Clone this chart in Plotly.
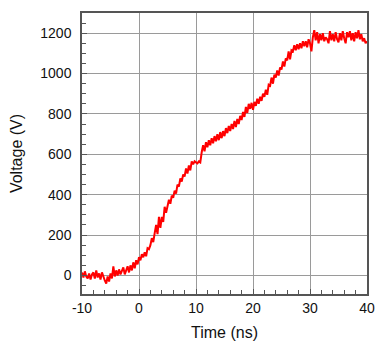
import plotly.graph_objects as go

t_start = -10.0
t_step = 0.25
voltage = [
    15, -10, 20, -5,
    -15, 10, -20, 5,
    15, -15, 25, -10,
    10, -20, 15, -10,
    -25, -40, -5, -30,
    10, -15, 45, -5,
    25, 0, 30, 5,
    20, 40, 5, 30,
    45, 15, 50, 25,
    65, 35, 75, 55,
    90, 75, 105, 90,
    115, 95, 135, 130,
    150, 185, 165, 210,
    250, 205, 290, 235,
    290, 265, 340, 310,
    345, 375, 355, 395,
    385, 420, 405, 450,
    440, 480, 465, 500,
    490, 530, 505, 545,
    520, 565, 550, 565,
    560, 555, 565, 560,
    610, 645, 615, 660,
    635, 670, 645, 680,
    655, 690, 665, 700,
    670, 710, 680, 715,
    690, 730, 705, 740,
    715, 750, 725, 765,
    735, 775, 750, 790,
    770, 810, 785, 835,
    805, 850, 825, 855,
    820, 860, 840, 875,
    850, 885, 865, 900,
    885, 920, 895, 945,
    940, 980, 950, 995,
    980, 1015, 990, 1030,
    1020, 1060, 1035, 1075,
    1065, 1110, 1070, 1115,
    1110, 1140, 1115, 1145,
    1120, 1150, 1125, 1160,
    1135, 1160, 1130, 1170,
    1150, 1110, 1180, 1215,
    1165, 1205, 1150, 1195,
    1165, 1200, 1160, 1180,
    1170, 1150, 1210, 1165,
    1195, 1160, 1205, 1170,
    1155, 1200, 1165, 1210,
    1175, 1150, 1205, 1180,
    1210, 1165, 1200, 1160,
    1205, 1175, 1215, 1170,
    1195, 1160, 1175, 1150,
    1160,
]
time_ns = [t_start + i * t_step for i in range(len(voltage))]

x_ticks = [-10, 0, 10, 20, 30, 40]
x_tick_labels = ["-10", "0", "10", "20", "30", "40"]
y_ticks = [0, 200, 400, 600, 800, 1000, 1200]
y_tick_labels = ["0", "200", "400", "600", "800", "1000", "1200"]

fig = go.Figure()
fig.add_trace(go.Scatter(x=time_ns, y=voltage, mode="lines",
                         line=dict(color="#ff0000", width=2), showlegend=False))

font_family = "Liberation Sans, Arial, sans-serif"
axis_common = dict(
    showgrid=True, gridcolor="#9a9a9a", gridwidth=1,
    showline=True, linecolor="#555555", linewidth=1.5, mirror=True,
    ticks="inside", ticklen=5, tickcolor="#555555",
    zeroline=False, automargin=False,
    tickfont=dict(family=font_family, size=14, color="#111111"),
)

fig.update_xaxes(
    range=[-10, 40], tickvals=x_ticks, ticktext=x_tick_labels,
    minor=dict(dtick=2, ticks="inside", ticklen=4, tickcolor="#555555", showgrid=False),
    title=dict(text="Time (ns)", font=dict(family=font_family, size=16, color="#111111"), standoff=12),
    **axis_common,
)
fig.update_yaxes(
    range=[-92, 1300], tickvals=y_ticks, ticktext=y_tick_labels,
    minor=dict(dtick=50, ticks="inside", ticklen=4, tickcolor="#555555", showgrid=False),
    title=dict(text="Voltage (V)", font=dict(family=font_family, size=16, color="#111111"), standoff=14),
    ticklabelstandoff=6,
    **axis_common,
)

fig.update_layout(
    width=377, height=344,
    margin=dict(l=82, r=10, t=13, b=50),
    plot_bgcolor="white", paper_bgcolor="white",
)

fig.write_html("out.html", config={"displayModeBar": False},
               post_script="document.body.style.margin='0';")
